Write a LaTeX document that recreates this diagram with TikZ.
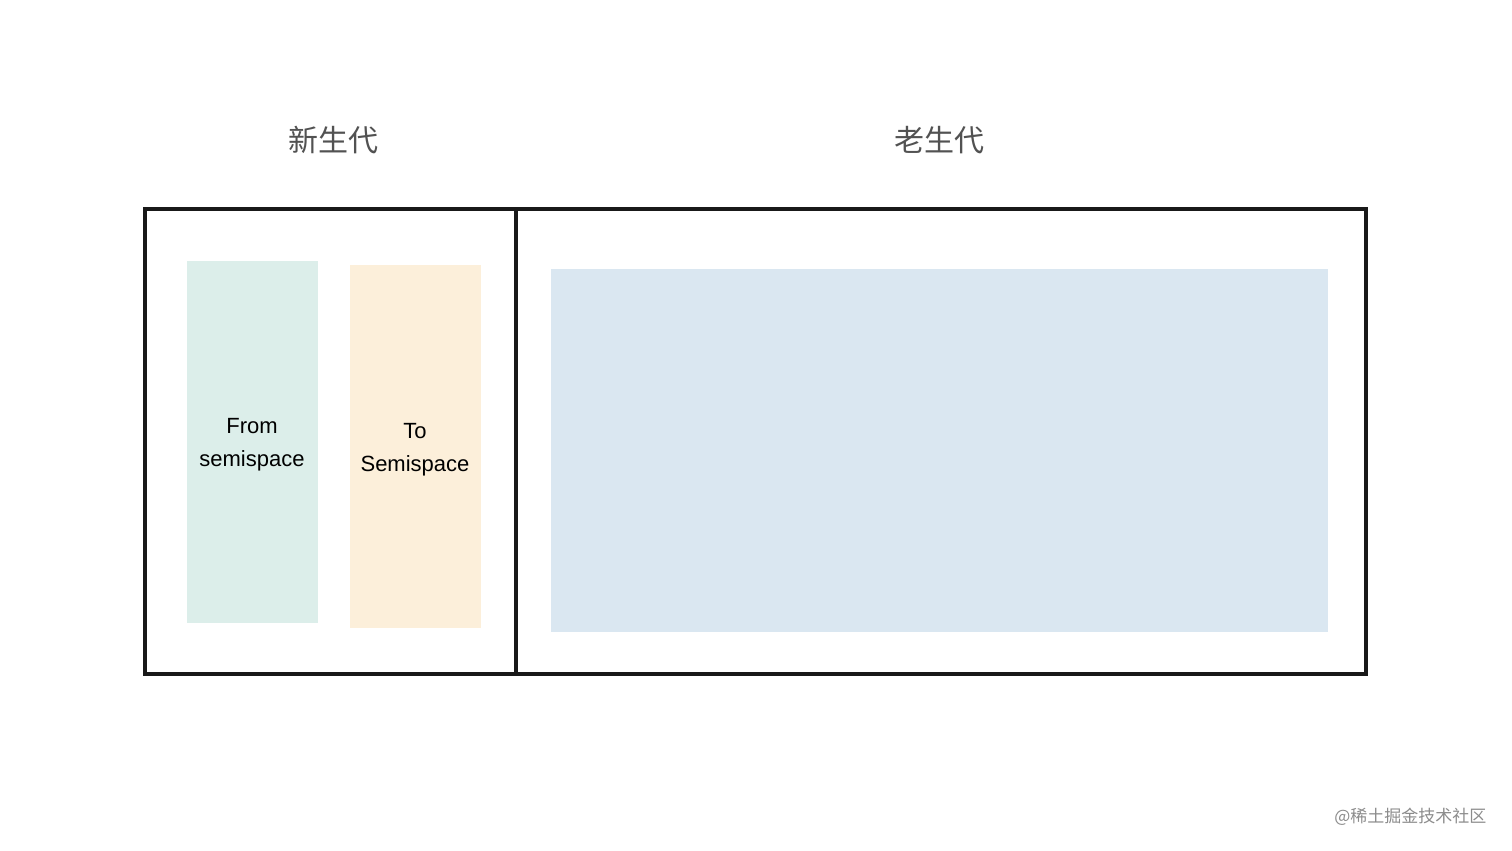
\documentclass[tikz,border=0pt]{standalone}
\usepackage{fontspec}
\setmainfont{Liberation Sans}
\newfontfamily\cjk{Noto Sans CJK SC}
\begin{document}
\begin{tikzpicture}[x=1pt,y=-1pt,
  region/.style={draw=none,anchor=north west,inner sep=0pt,outer sep=0pt},
  label/.style={font=\fontsize{22}{33}\selectfont,align=center,text=black},
  title/.style={font=\cjk\fontsize{30}{36}\selectfont,text=black!68},
  frame/.style={draw=black!90,line width=3.2pt}]
\useasboundingbox[fill=white] (0,0) rectangle (1512,851);
% frames
\node[region,frame,minimum width=371pt,minimum height=465pt] (young) at (145,209) {};
\node[region,frame,minimum width=850pt,minimum height=465pt] (old) at (516,209) {};
% spaces
\node[region,fill={rgb,255:red,220;green,238;blue,234},minimum width=131pt,minimum height=362pt] (from) at (187,261) {};
\node[region,fill={rgb,255:red,252;green,239;blue,218},minimum width=131pt,minimum height=363pt] (to) at (350,265) {};
\node[region,fill={rgb,255:red,218;green,231;blue,241},minimum width=777pt,minimum height=363pt] (oldspace) at (551,269) {};
\node[label] (fromtxt) at (252,445) {From\\semispace};
\node[label] (totxt) at (415,450) {To\\Semispace};
% titles
\node[title] (ytitle) at (333,140) {新生代};
\node[title] (otitle) at (939,140) {老生代};
% watermark
\node[font=\cjk\fontsize{17}{20}\selectfont,text=black!45,anchor=east] (wm) at (1490,817) {@稀土掘金技术社区};
\end{tikzpicture}
\end{document}
